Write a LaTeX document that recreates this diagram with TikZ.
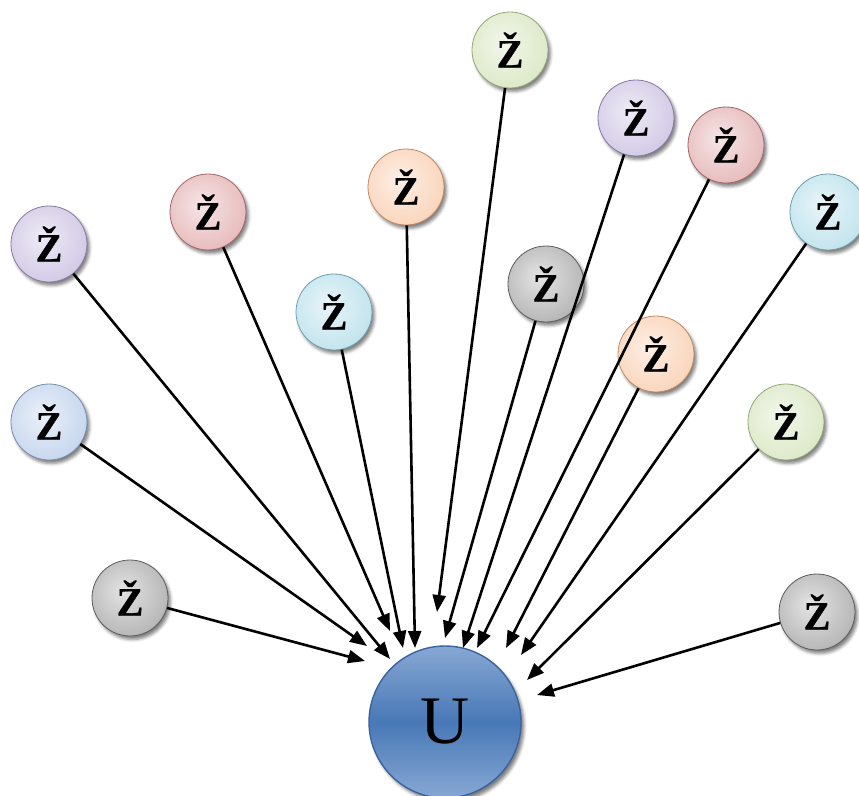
\documentclass[tikz,border=0pt]{standalone}
\usepackage{fontspec}
\setmainfont{Liberation Serif}
\newfontfamily\zfont{Liberation Serif Bold}[FakeBold=0.8]
\usetikzlibrary{arrows.meta,shadows.blur}
\definecolor{cP}{RGB}{172,155,208}
\definecolor{cR}{RGB}{210,128,130}
\definecolor{cO}{RGB}{246,176,128}
\definecolor{cG}{RGB}{190,214,152}
\definecolor{cC}{RGB}{140,204,222}
\definecolor{cB}{RGB}{150,180,224}
\definecolor{cK}{RGB}{118,118,118}
\newcommand\mkzball[1]{%
  \colorlet{#1in}{#1!20!white}%
  \colorlet{#1mid}{#1!50!white}%
  \pgfdeclareradialshading{zb#1}{\pgfpoint{-5bp}{5bp}}{color(0bp)=(#1in); color(26bp)=(#1mid); color(50bp)=(#1); color(60bp)=(#1)}}
\mkzball{cP}\mkzball{cR}\mkzball{cO}\mkzball{cG}\mkzball{cC}\mkzball{cB}\mkzball{cK}
\tikzset{
  zball/.style={circle, minimum size=76pt, inner sep=0pt, draw=#1!78!black, line width=0.8pt,
    shading=zb#1,
    blur shadow={shadow xshift=2.5pt, shadow yshift=-3.5pt, shadow blur radius=3pt, shadow opacity=50},
    font=\zfont\fontsize{40}{40}\selectfont},
  uball/.style={circle, minimum size=152pt, inner sep=0pt, draw={rgb,255:red,58;green,98;blue,158}, line width=1.4pt,
    top color={rgb,255:red,135;green,168;blue,212},
    bottom color={rgb,255:red,135;green,168;blue,212},
    middle color={rgb,255:red,72;green,120;blue,182},
    blur shadow={shadow xshift=3pt, shadow yshift=-4pt, shadow blur radius=3pt, shadow opacity=50},
    font=\fontsize{68}{68}\selectfont},
  conn/.style={line width=2.6pt, -{Triangle[length=17pt,width=13pt]}}
}
\begin{document}
\begin{tikzpicture}[x=1pt,y=-1pt]
\useasboundingbox (0,0) rectangle (859,795);
% nodes
\node[zball=cP] (P1) at (49,244) {Ž};
\node[zball=cR] (R1) at (208,212) {Ž};
\node[zball=cO] (O1) at (406,187) {Ž};
\node[zball=cG] (G1) at (510,50) {Ž};
\node[zball=cP] (P2) at (636,118) {Ž};
\node[zball=cR] (R2) at (726,145) {Ž};
\node[zball=cC] (C2) at (828,212) {Ž};
\node[zball=cC] (C1) at (334,312) {Ž};
\node[zball=cK] (K1) at (546,284) {Ž};
\node[zball=cO] (O2) at (656,354) {Ž};
\node[zball=cB] (B1) at (49,422) {Ž};
\node[zball=cG] (G2) at (786,422) {Ž};
\node[zball=cK] (K2) at (130,598) {Ž};
\node[zball=cK] (K3) at (817,612) {Ž};
\node[uball] (U) at (445,722) {U};
% arrow tips
\coordinate (tK2) at (365,661);
\coordinate (tB1) at (367,646);
\coordinate (tP1) at (390,659);
\coordinate (tR1) at (390,631);
\coordinate (tC1) at (403,648);
\coordinate (tO1) at (415,648);
\coordinate (tG1) at (437,612);
\coordinate (tK1) at (445,638);
\coordinate (tP2) at (463,648);
\coordinate (tR2) at (477,648);
\coordinate (tO2) at (506,648);
\coordinate (tC2) at (521,655);
\coordinate (tG2) at (527,680);
\coordinate (tK3) at (537,695);
% connectors
\foreach \n in {K2,B1,P1,R1,C1,O1,G1,K1,P2,R2,O2,C2,G2,K3}
  \draw[conn] (\n) -- (t\n);
\end{tikzpicture}
\end{document}
